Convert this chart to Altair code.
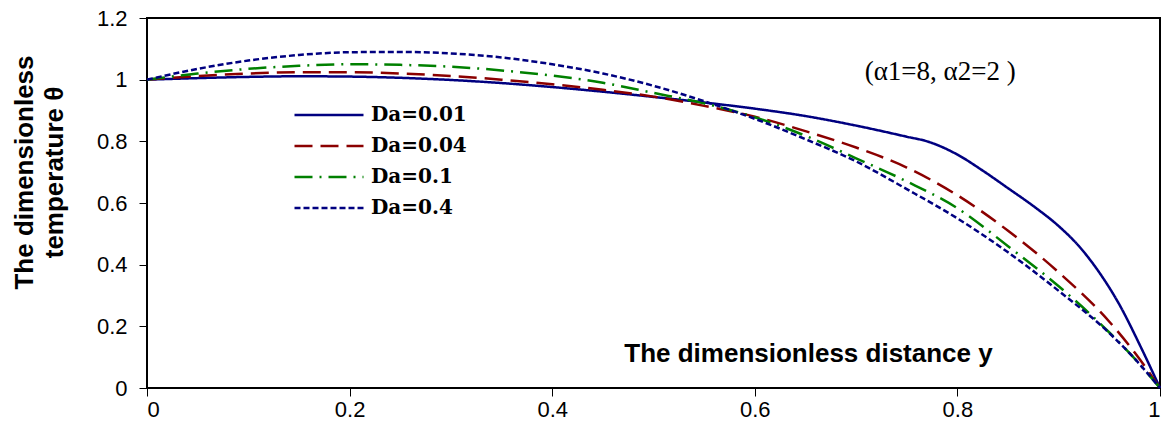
import altair as alt
import pandas as pd

names = ["Da=0.01", "Da=0.04", "Da=0.1", "Da=0.4"]
colors = ["#000080", "#8B0000", "#008000", "#000080"]
dashes = [[1, 0], [18, 8], [18, 7, 2, 7], [6, 3]]

x_a = [0, 0.05, 0.1, 0.15, 0.2, 0.25, 0.3, 0.35, 0.4, 0.45, 0.5, 0.55, 0.6, 0.65, 0.7,
       0.75, 0.77, 0.8, 0.825, 0.85, 0.875, 0.9, 0.92, 0.94, 0.96, 0.98, 1]
da001 = [1, 1.005, 1.009, 1.011, 1.01, 1.006, 0.999, 0.989, 0.976, 0.961, 0.944, 0.926, 0.906,
         0.882, 0.851, 0.815, 0.8, 0.757, 0.705, 0.648, 0.59, 0.525, 0.46, 0.375, 0.27,
         0.14, 0]

x_b = [0, 0.05, 0.1, 0.15, 0.2, 0.25, 0.3, 0.35, 0.4, 0.45, 0.5, 0.55, 0.6, 0.65, 0.7,
       0.75, 0.8, 0.85, 0.9, 0.95, 0.975, 1]
da004 = [1, 1.012, 1.02, 1.024, 1.024, 1.02, 1.012, 1.0, 0.985, 0.967, 0.945, 0.915, 0.88,
         0.833, 0.78, 0.715, 0.625, 0.51, 0.375, 0.215, 0.115, 0]
da01 = [1, 1.02, 1.035, 1.045, 1.05, 1.048, 1.042, 1.03, 1.013, 0.99, 0.957, 0.923, 0.878,
        0.818, 0.745, 0.67, 0.583, 0.46, 0.33, 0.18, 0.095, 0]
da04 = [1, 1.035, 1.062, 1.08, 1.089, 1.09, 1.085, 1.072, 1.05, 1.02, 0.98, 0.93, 0.873,
        0.807, 0.735, 0.645, 0.55, 0.44, 0.315, 0.178, 0.095, 0]

x_ticks = [0, 0.2, 0.4, 0.6, 0.8, 1]
y_ticks = [0, 0.2, 0.4, 0.6, 0.8, 1, 1.2]

rows = []
for xs, ys, n in [(x_a, da001, names[0]), (x_b, da004, names[1]), (x_b, da01, names[2]), (x_b, da04, names[3])]:
    for xv, yv in zip(xs, ys):
        rows.append({"x": xv, "y": yv, "series": n})
df = pd.DataFrame(rows)

legend_kw = dict(
    title=None, orient="none", legendX=146, legendY=87, symbolType="stroke",
    symbolSize=4761, symbolStrokeWidth=2.5, clipHeight=20, rowPadding=11,
    labelFont="DejaVu Serif", labelFontWeight="bold", labelFontSize=20,
    labelColor="black", labelOffset=6, padding=0, symbolOffset=0,
)

lines = alt.Chart(df).mark_line(strokeWidth=2.5, interpolate="monotone").encode(
    x=alt.X("x:Q", scale=alt.Scale(domain=[0, 1], nice=False),
            axis=alt.Axis(values=x_ticks, format="~g", title="The dimensionless distance y",
                          titleFont="Liberation Sans", titleFontSize=26, titleFontWeight="bold",
                          titleColor="black", titleX=661, titleY=-27, titleBaseline="alphabetic",
                          titleAnchor="start", titleAlign="center")),
    y=alt.Y("y:Q", scale=alt.Scale(domain=[0, 1.2], nice=False),
            axis=alt.Axis(values=y_ticks, format="~g",
                          title=["The dimensionless", "temperature θ"],
                          titleFont="Liberation Sans", titleFontSize=26, titleFontWeight="bold",
                          titleColor="black", titleAngle=-90, titleX=-115, titleY=154,
                          titleBaseline="alphabetic", titleAlign="center", titleLineHeight=30,
                          titleAnchor="start")),
    color=alt.Color("series:N", scale=alt.Scale(domain=names, range=colors),
                    legend=alt.Legend(**legend_kw)),
    strokeDash=alt.StrokeDash("series:N", scale=alt.Scale(domain=names, range=dashes),
                              legend=alt.Legend(**legend_kw)),
)

note = pd.DataFrame({"x": [0.783], "y": [1.025], "t": ["(α1=8, α2=2 )"]})
ann = alt.Chart(note).mark_text(font="Liberation Serif", fontSize=27, color="black",
                                align="center", baseline="middle").encode(
    x="x:Q", y="y:Q", text="t:N")

chart = alt.layer(lines, ann).properties(
    width=1013, height=370,
    autosize=alt.AutoSizeParams(type="none"),
    padding={"left": 147, "top": 18, "right": 6, "bottom": 39},
).configure_view(stroke="black", strokeWidth=2).configure_axis(
    domain=False, grid=False, ticks=True, tickColor="black", tickSize=8, tickWidth=1,
    labelFont="Liberation Sans", labelFontSize=22, labelColor="black",
).configure_axisY(labelPadding=12).configure_axisX(labelPadding=3)

chart.save("out.html", embed_options={"renderer": "svg", "actions": False})
